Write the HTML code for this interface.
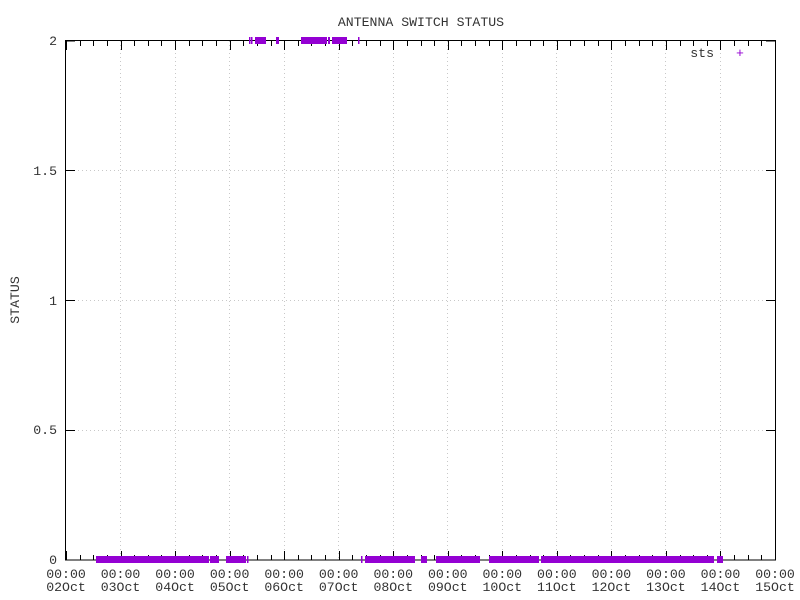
<!DOCTYPE html>
<html><head><style>body{margin:0;background:#fff}svg{display:block}text{font-family:"Liberation Mono",monospace;font-size:13.2px;fill:#333}</style></head><body>
<svg width="800" height="600" xmlns="http://www.w3.org/2000/svg">
<g stroke="#c8c8c8" stroke-dasharray="1,3" stroke-width="1">
<line x1="66" y1="430.5" x2="775" y2="430.5"/><line x1="66" y1="300.5" x2="775" y2="300.5"/><line x1="66" y1="170.5" x2="775" y2="170.5"/>
<line x1="120.5" y1="41" x2="120.5" y2="560"/><line x1="175.5" y1="41" x2="175.5" y2="560"/><line x1="229.5" y1="41" x2="229.5" y2="560"/><line x1="284.5" y1="41" x2="284.5" y2="560"/><line x1="338.5" y1="41" x2="338.5" y2="560"/><line x1="393.5" y1="41" x2="393.5" y2="560"/><line x1="447.5" y1="41" x2="447.5" y2="560"/><line x1="502.5" y1="41" x2="502.5" y2="560"/><line x1="556.5" y1="41" x2="556.5" y2="560"/><line x1="611.5" y1="41" x2="611.5" y2="560"/><line x1="665.5" y1="41" x2="665.5" y2="560"/><line x1="720.5" y1="41" x2="720.5" y2="560"/>
</g>
<g id="ticks" stroke="#000" stroke-width="1"></g>
<rect x="65.5" y="40.5" width="710" height="519.5" fill="none" stroke="#000"/>
<g fill="#9400d3">
<rect x="96" y="556" width="113" height="7"/><rect x="210" y="556" width="9" height="7"/><rect x="226" y="556" width="20" height="7"/><rect x="247" y="556" width="1.5" height="7"/><rect x="361" y="556" width="1.5" height="7"/><rect x="365" y="556" width="50" height="7"/><rect x="421" y="556" width="6" height="7"/><rect x="436" y="556" width="44" height="7"/><rect x="489" y="556" width="50" height="7"/><rect x="541" y="556" width="173" height="7"/><rect x="717" y="556" width="6" height="7"/>
<rect x="249" y="37" width="1.5" height="7"/><rect x="251" y="37" width="1.5" height="7"/><rect x="255" y="37" width="11" height="7"/><rect x="276" y="37" width="3" height="7"/><rect x="301" y="37" width="26" height="7"/><rect x="328" y="37" width="2" height="7"/><rect x="332" y="37" width="15" height="7"/><rect x="358" y="37" width="1.5" height="7"/>
</g>
<text x="421" y="26" text-anchor="middle">ANTENNA SWITCH STATUS</text>
<text x="19" y="300" text-anchor="middle" transform="rotate(-90 19 300)">STATUS</text>
<text x="714" y="57" text-anchor="end">sts</text>
<text x="740" y="57" text-anchor="middle" style="fill:#9400d3">+</text>
<g text-anchor="end">
<text x="57" y="564">0</text><text x="57" y="434">0.5</text><text x="57" y="305">1</text><text x="57" y="175">1.5</text><text x="57" y="45">2</text>
</g>
<g id="xl" text-anchor="middle"></g>
</svg>
<script>
var t=document.getElementById('ticks'),xl=document.getElementById('xl'),s='';
var d=['02','03','04','05','06','07','08','09','10','11','12','13','14','15'];
for(var i=0;i<=52;i++){var x=66+i*709/52;x=Math.round(x)+0.5;var L=i%4==0?9:5;
s+='<line x1="'+x+'" y1="560" x2="'+x+'" y2="'+(560-L)+'"/><line x1="'+x+'" y1="41" x2="'+x+'" y2="'+(41+L)+'"/>';}
[560,430.5,300.5,170.5,41].forEach(function(y){s+='<line x1="66" y1="'+y+'" x2="75" y2="'+y+'"/><line x1="775" y1="'+y+'" x2="766" y2="'+y+'"/>';});
t.innerHTML=s;var h='';
for(var j=0;j<14;j++){var x=66+j*709/13;h+='<text x="'+x+'" y="578">00:00</text><text x="'+x+'" y="591">'+d[j]+'Oct</text>';}
xl.innerHTML=h;
</script>
</body></html>
